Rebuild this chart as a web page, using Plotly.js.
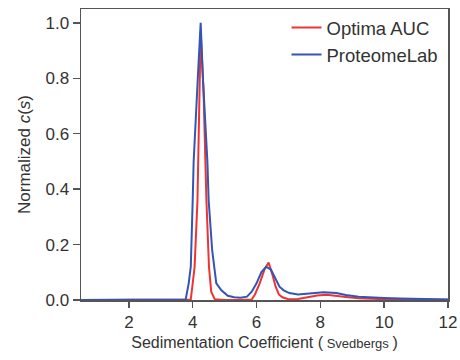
<!DOCTYPE html>
<html>
<head>
<meta charset="utf-8">
<script src="https://cdn.plot.ly/plotly-3.0.1.min.js"></script>
<style>html,body{margin:0;padding:0;background:#fff;}#chart{width:460px;height:360px;}</style>
</head>
<body>
<div id="chart"></div>
<script>
// Optima AUC (red)
const optimaS = [0.5, 3.9, 3.94, 4.0, 4.06, 4.15, 4.25, 4.34, 4.43, 4.51, 4.58, 4.69, 5.0, 5.5, 5.85, 5.95, 6.1, 6.25, 6.38, 6.5, 6.6, 6.7, 6.81, 7.0, 7.3, 7.6, 7.9, 8.2, 8.5, 8.8, 9.2, 9.6, 10.0, 11.0, 12.0];
const optimaC = [0, 0, 0.002, 0.06, 0.12, 0.36, 0.97, 0.75, 0.36, 0.12, 0.03, 0.003, 0, 0, 0.002, 0.02, 0.06, 0.11, 0.135, 0.09, 0.048, 0.02, 0.01, 0.003, 0.004, 0.01, 0.016, 0.019, 0.016, 0.011, 0.006, 0.004, 0.003, 0.002, 0.001];
// ProteomeLab (blue)
const proteoS = [0.5, 3.7, 3.78, 3.875, 3.94, 4.0, 4.03, 4.16, 4.25, 4.32, 4.46, 4.5, 4.61, 4.74, 4.9, 5.1, 5.3, 5.5, 5.7, 5.85, 6.0, 6.15, 6.3, 6.45, 6.6, 6.72, 6.85, 7.03, 7.3, 7.66, 8.1, 8.5, 8.8, 9.2, 9.6, 10.0, 10.5, 11.0, 11.5, 12.0];
const proteoC = [0, 0, 0.002, 0.06, 0.12, 0.36, 0.5, 0.8, 1.0, 0.8, 0.5, 0.36, 0.18, 0.06, 0.035, 0.015, 0.01, 0.008, 0.012, 0.03, 0.06, 0.1, 0.12, 0.11, 0.075, 0.048, 0.035, 0.025, 0.02, 0.024, 0.028, 0.025, 0.018, 0.012, 0.009, 0.007, 0.005, 0.004, 0.003, 0.002];
const seriesNames = ["Optima AUC", "ProteomeLab"];
const xTicks = [2, 4, 6, 8, 10, 12];
const yTicks = [0, 0.2, 0.4, 0.6, 0.8, 1.0];

const font = "Liberation Sans, Arial, sans-serif";
const traces = [
  {x: optimaS, y: optimaC, name: seriesNames[0], mode: "lines", line: {color: "#ee3333", width: 2}},
  {x: proteoS, y: proteoC, name: seriesNames[1], mode: "lines", line: {color: "#3355b5", width: 2}}
];
const layout = {
  width: 460, height: 360,
  margin: {l: 81, r: 12, t: 9, b: 60},
  paper_bgcolor: "#fff", plot_bgcolor: "#fff",
  font: {family: font, size: 17, color: "#333"},
  showlegend: true,
  legend: {x: 0.56, y: 1.0, xanchor: "left", yanchor: "top", bgcolor: "rgba(255,255,255,0)", font: {size: 18.5, color: "#333"}, tracegroupgap: 0},
  xaxis: {
    range: [0.5, 12], tickvals: xTicks, ticks: "outside", ticklen: 6, tickwidth: 1.5, tickcolor: "#555",
    showline: true, linecolor: "#555", linewidth: 1.5, mirror: true, showgrid: false, zeroline: false,
    tickfont: {size: 17, color: "#333"},
    title: {text: "Sedimentation Coefficient (<span style='font-size:13px'> Svedbergs </span>)", font: {size: 16, color: "#333"}, standoff: 6}
  },
  yaxis: {
    range: [0, 1.05], tickvals: yTicks, tickformat: ".1f", ticks: "outside", ticklen: 7, tickwidth: 1.5, tickcolor: "#555",
    showline: true, linecolor: "#555", linewidth: 1.5, mirror: true, showgrid: false, zeroline: false,
    tickfont: {size: 17, color: "#333"},
    title: {text: "Normalized <i>c</i>(<i>s</i>)", font: {size: 17, color: "#333"}, standoff: 10}
  }
};
Plotly.newPlot("chart", traces, layout, {staticPlot: true, displayModeBar: false});
</script>
</body>
</html>
